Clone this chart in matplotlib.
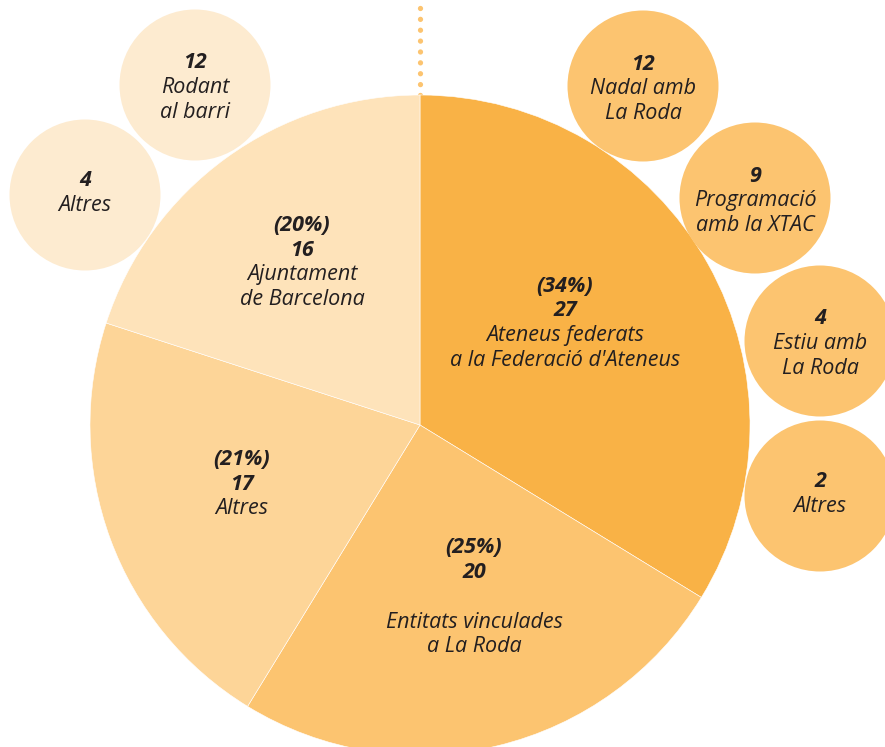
import matplotlib
matplotlib.use("Agg")
import matplotlib.pyplot as plt
from matplotlib.patches import Circle

# Dades del gràfic
labels = ["Ateneus federats\na la Federació d'Ateneus", "Entitats vinculades\na La Roda",
          "Altres", "Ajuntament\nde Barcelona"]
values = [27, 20, 17, 16]
colors = ["#F9B246", "#FCC470", "#FDD598", "#FEE3BA"]

sub_values = [12, 4, 12, 9, 4, 2]
sub_labels = ["Rodant\nal barri", "Altres", "Nadal amb\nLa Roda",
              "Programació\namb la XTAC", "Estiu amb\nLa Roda", "Altres"]
sub_colors = ["#FDEBD0", "#FDEBD0", "#FCC470", "#FCC470", "#FCC470", "#FCC470"]

# posicions (en píxels de la imatge)
W, H = 885, 747
cx, cy, R = 420, 322, 330
sub_pos = [(195, 662), (85, 552), (643, 661), (755, 549), (820, 406), (820, 251)]
sub_r = 75.5
text_pos = [(565, 436), (474, 175), (242, 263), (302, 497)]
gap = [24.5, 50, 24.5, 24.5]
LS = 24.8  # interlineat en píxels
FS = 15.5

plt.rcParams['font.family'] = ['Open Sans', 'DejaVu Sans']
txt = "#231F20"

fig = plt.figure(figsize=(W / 100, H / 100), dpi=100)
ax = fig.add_axes([0, 0, 1, 1])

# línia de punts
ax.plot([cx, cx], [cy + R, H - 7], color="#FCC470", lw=3.8,
        linestyle=(0, (0.01, 2.05)), dash_capstyle='round', zorder=1)

ax.pie(values, colors=colors, startangle=90, counterclock=False,
       center=(cx, cy), radius=R, frame=True,
       wedgeprops=dict(edgecolor='white', linewidth=0.4))
ax.set_xlim(0, W)
ax.set_ylim(0, H)
ax.set_aspect('equal')
ax.axis('off')

total = sum(values)
for v, lab, (x, y), g in zip(values, labels, text_pos, gap):
    pct = round(100 * v / total)
    ax.text(x, y + LS, f"({pct}%)", ha='center', va='center', fontsize=FS,
            fontweight='bold', style='italic', color=txt)
    ax.text(x, y, str(v), ha='center', va='center', fontsize=FS,
            fontweight='bold', style='italic', color=txt)
    for i, line in enumerate(lab.split("\n")):
        ax.text(x, y - g - i * LS, line, ha='center', va='center', fontsize=FS,
                style='italic', color=txt)

for v, lab, c, (x, y) in zip(sub_values, sub_labels, sub_colors, sub_pos):
    ax.add_patch(Circle((x, y), sub_r, facecolor=c, edgecolor='none', zorder=2))
    lines = lab.split("\n")
    top = y + 14.5 + 7.5 * (len(lines) - 1)
    ax.text(x, top, str(v), ha='center', va='center', fontsize=FS,
            fontweight='bold', style='italic', color=txt, zorder=3)
    for i, line in enumerate(lines):
        ax.text(x, top - (i + 1) * LS, line, ha='center', va='center', fontsize=FS,
                style='italic', color=txt, zorder=3)

fig.savefig("out.png", dpi=100)
